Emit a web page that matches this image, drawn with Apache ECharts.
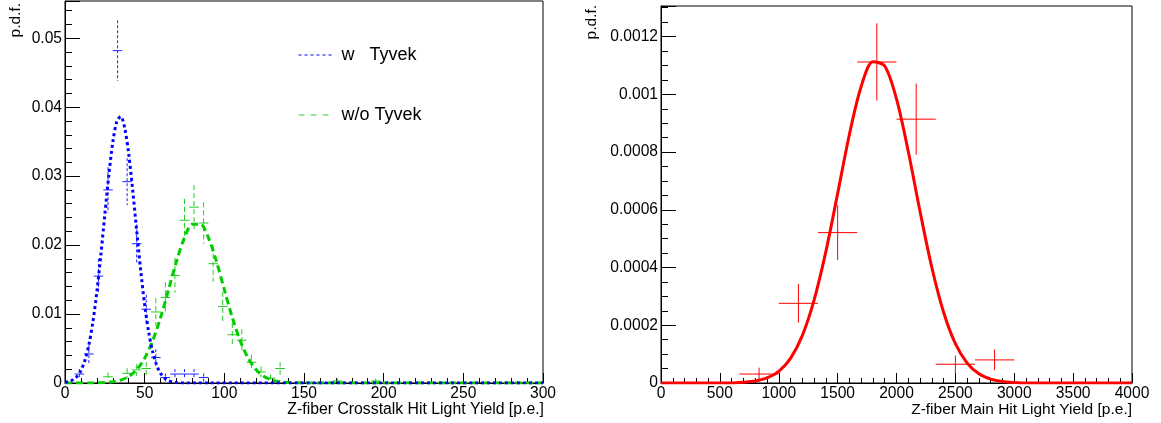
<!DOCTYPE html>
<html><head><meta charset="utf-8">
<script src="https://cdn.jsdelivr.net/npm/echarts@6/dist/echarts.min.js"></script>
<style>html,body{margin:0;padding:0;background:#fff}#c{width:1161px;height:423px}</style>
</head><body><div id="c"></div>
<script>
// ---------- left panel: crosstalk hit light yield ----------
const leftXTicks = [0, 50, 100, 150, 200, 250, 300];
const leftYTicks = [0, 0.01, 0.02, 0.03, 0.04, 0.05];
const leftBinHalf = 3;

const blueX    = [9, 15, 21, 27, 33, 39, 45, 51, 57, 63, 69, 75, 81, 87];
const blueY    = [0.0013, 0.0042, 0.0155, 0.028, 0.0482, 0.0292, 0.0202, 0.0107, 0.0037, 0.0008, 0.0013, 0.0013, 0.0013, 0.0008];
const blueYErr = [0.00072, 0.0013, 0.0025, 0.0033, 0.0044, 0.0034, 0.0028, 0.0021, 0.0012, 0.00057, 0.00072, 0.00072, 0.00072, 0.00057];

const greenX    = [27, 39, 45, 51, 57, 63, 69, 75, 81, 87, 93, 99, 105, 111, 117, 123, 129, 135, 171, 195];
const greenY    = [0.0009, 0.0014, 0.0019, 0.0021, 0.0103, 0.0124, 0.0156, 0.0236, 0.0255, 0.0232, 0.0173, 0.0111, 0.0070, 0.0062, 0.0030, 0.0016, 0.0007, 0.0021, 0.0003, 0.0003];
const greenYErr = [0.0006, 0.00075, 0.00087, 0.00092, 0.0020, 0.0022, 0.0025, 0.0031, 0.0032, 0.0030, 0.0026, 0.0021, 0.0017, 0.0016, 0.0011, 0.0008, 0.00053, 0.00092, 0.00035, 0.00035];

const blueFitX = [0, 2.5, 5, 7.5, 10, 12.5, 15, 17.5, 20, 22.5, 25, 27.5, 30, 32.5, 35, 37.5, 40, 42.5, 45, 47.5, 50, 52.5, 55, 57.5, 60, 62.5, 65, 67.5, 70, 75, 300];
const blueFitY = [0.0000893, 0.000209, 0.000457, 0.000939, 0.00181, 0.00328, 0.00556, 0.00886, 0.01324, 0.01856, 0.02442, 0.03014, 0.03490, 0.03792, 0.03865, 0.03696, 0.03317, 0.02792, 0.02205, 0.01634, 0.01136, 0.00741, 0.00454, 0.00260, 0.00140, 0.000709, 0.000336, 0.000150, 0.0000625, 0, 0];

const greenFitX = [0, 15, 20, 25, 30, 35, 40, 45, 50, 55, 60, 65, 70, 75, 80, 85, 90, 95, 100, 105, 110, 115, 120, 125, 130, 135, 140, 145, 150, 300];
const greenFitY = [0, 0, 0.000023, 0.0000667, 0.000176, 0.000428, 0.00095, 0.00193, 0.00359, 0.00611, 0.0095, 0.01354, 0.01767, 0.02109, 0.02304, 0.02304, 0.02109, 0.01767, 0.01354, 0.0095, 0.00611, 0.00359, 0.00193, 0.00095, 0.000428, 0.000176, 0.0000667, 0.000023, 0, 0];

// ---------- right panel: main hit light yield ----------
const rightXTicks = [0, 500, 1000, 1500, 2000, 2500, 3000, 3500, 4000];
const rightYTicks = [0, 0.0002, 0.0004, 0.0006, 0.0008, 0.001, 0.0012];
const rightBinHalf = 166.7;

const redX    = [833, 1167, 1500, 1833, 2167, 2500, 2833];
const redY    = [0.000031, 0.000276, 0.000521, 0.001112, 0.000914, 0.000065, 0.00008];
const redYErr = [0.000022, 0.000067, 0.000095, 0.000134, 0.000123, 0.00003, 0.000036];

const redFitX = [0, 600, 700, 800, 900, 1000, 1100, 1200, 1300, 1400, 1500, 1600, 1700, 1800, 1900, 2000, 2100, 2200, 2300, 2400, 2500, 2600, 2700, 2800, 2900, 3000, 3100, 4000];
const redFitY = [0, 0, 0.00000242, 0.00000681, 0.0000174, 0.0000405, 0.0000855, 0.000164, 0.000287, 0.000455, 0.000656, 0.000861, 0.001027, 0.001113, 0.001098, 0.000984, 0.000802, 0.000594, 0.0004, 0.000245, 0.000136, 0.000069, 0.0000317, 0.0000133, 0.00000505, 0.00000175, 0, 0];

const legendNames = ['w   Tyvek', 'w/o Tyvek'];
const xTitles = ['Z-fiber Crosstalk Hit Light Yield [p.e.]', 'Z-fiber Main Hit Light Yield [p.e.]'];
const yTitle = 'p.d.f.';

// ---------- build ----------
const FONT = "'Liberation Sans', Arial, Helvetica, sans-serif";
const zip = (xs, ys) => xs.map((x, i) => [x, ys[i]]);
const errData = (xs, ys, es, h) => xs.map((x, i) => [x, ys[i], h, es[i]]);
const plainNum = v => String(+v.toPrecision(10));

function crossRenderer(color, dash) {
  return function (params, api) {
    const x = api.value(0), y = api.value(1), ex = api.value(2), ey = api.value(3);
    const c = api.coord([x, y]);
    const l = api.coord([x - ex, y]);
    const r = api.coord([x + ex, y]);
    const t = api.coord([x, y + ey]);
    const b = api.coord([x, Math.max(0, y - ey)]);
    return {
      type: 'group',
      children: [
        { type: 'line', shape: { x1: l[0], y1: c[1], x2: r[0], y2: c[1] }, style: { stroke: color, lineWidth: 1 } },
        { type: 'line', shape: { x1: c[0], y1: t[1], x2: c[0], y2: b[1] }, style: { stroke: color, lineWidth: 1, lineDash: dash } }
      ]
    };
  };
}

function xAxisCfg(grid, ticks) {
  return {
    type: 'value', gridIndex: grid,
    min: ticks[0], max: ticks[ticks.length - 1], interval: ticks[1] - ticks[0],
    axisLine: { show: true, onZero: false, lineStyle: { color: '#000', width: 1 } },
    axisTick: { show: true, inside: true, length: 10, lineStyle: { color: '#000', width: 1 } },
    minorTick: { show: true, splitNumber: 5, length: 5, lineStyle: { color: '#000', width: 1 } },
    splitLine: { show: false }, minorSplitLine: { show: false },
    axisLabel: { color: '#000', fontSize: 15.6, fontFamily: FONT, margin: 3, showMinLabel: true, showMaxLabel: true, formatter: plainNum }
  };
}
function yAxisCfg(grid, ticks, max, minorSplit) {
  return {
    type: 'value', gridIndex: grid,
    min: 0, max: max, interval: ticks[1] - ticks[0],
    axisLine: { show: true, onZero: false, lineStyle: { color: '#000', width: 1 } },
    axisTick: { show: true, inside: true, length: 15, lineStyle: { color: '#000', width: 1 } },
    minorTick: { show: true, splitNumber: minorSplit, length: 7, lineStyle: { color: '#000', width: 1 } },
    splitLine: { show: false }, minorSplitLine: { show: false },
    axisLabel: { color: '#000', fontSize: 15.6, fontFamily: FONT, margin: 3, showMinLabel: true, showMaxLabel: false, formatter: plainNum }
  };
}

const option = {
  backgroundColor: '#fff',
  animation: false,
  grid: [
    { left: 65, right: 618, top: 1, bottom: 40, show: true, borderColor: '#000', borderWidth: 1, backgroundColor: 'transparent' },
    { left: 661, right: 29, top: 6, bottom: 40, show: true, borderColor: '#000', borderWidth: 1, backgroundColor: 'transparent' }
  ],
  xAxis: [xAxisCfg(0, leftXTicks), xAxisCfg(1, rightXTicks)],
  yAxis: [yAxisCfg(0, leftYTicks, 0.0554, 5), yAxisCfg(1, rightYTicks, 0.001306, 4)],
  legend: {
    orient: 'vertical', left: 298, top: 46, padding: 0, itemWidth: 35, itemHeight: 18, itemGap: 42,
    textStyle: { color: '#000', fontSize: 18, fontFamily: FONT, padding: [0, 0, 0, 3] },
    data: [
      { name: legendNames[0], itemStyle: { opacity: 0 }, lineStyle: { color: '#0000ff', width: 1, type: [3, 3] } },
      { name: legendNames[1], itemStyle: { opacity: 0 }, lineStyle: { color: '#33cc33', width: 1, type: [6, 6] } }
    ]
  },
  graphic: [
    { type: 'text', x: 544, y: 402, style: { text: xTitles[0], align: 'right', verticalAlign: 'top', fontSize: 15.8, fontFamily: FONT, fill: '#000' } },
    { type: 'text', x: 1132, y: 402, style: { text: xTitles[1], align: 'right', verticalAlign: 'top', fontSize: 15.5, fontFamily: FONT, fill: '#000' } },
    { type: 'text', x: 23.5, y: 3, rotation: Math.PI / 2, style: { text: yTitle, align: 'right', verticalAlign: 'bottom', fontSize: 15.5, fontFamily: FONT, fill: '#000' } },
    { type: 'text', x: 600, y: 5, rotation: Math.PI / 2, style: { text: yTitle, align: 'right', verticalAlign: 'bottom', fontSize: 15.5, fontFamily: FONT, fill: '#000' } }
  ],
  series: [
    { name: 'green points', type: 'custom', xAxisIndex: 0, yAxisIndex: 0, clip: true,
      renderItem: crossRenderer('#22cc22', [5, 3]), encode: { x: 0, y: 1 },
      data: errData(greenX, greenY, greenYErr, leftBinHalf), z: 2 },
    { name: 'blue points', type: 'custom', xAxisIndex: 0, yAxisIndex: 0, clip: true,
      renderItem: crossRenderer('#2222ff', [3, 2]), encode: { x: 0, y: 1 },
      data: errData(blueX, blueY, blueYErr, leftBinHalf), z: 2 },
    { name: legendNames[1], type: 'line', xAxisIndex: 0, yAxisIndex: 0, symbol: 'none', smooth: 0.3,
      lineStyle: { color: '#00cc00', width: 3, type: [7, 4] }, itemStyle: { color: '#00cc00' },
      data: zip(greenFitX, greenFitY), z: 3 },
    { name: legendNames[0], type: 'line', xAxisIndex: 0, yAxisIndex: 0, symbol: 'none', smooth: 0.3,
      lineStyle: { color: '#0000ff', width: 3, type: [3, 3] }, itemStyle: { color: '#0000ff' },
      data: zip(blueFitX, blueFitY), z: 4 },
    { name: 'red points', type: 'custom', xAxisIndex: 1, yAxisIndex: 1, clip: true,
      renderItem: crossRenderer('#ff0000', null), encode: { x: 0, y: 1 },
      data: errData(redX, redY, redYErr, rightBinHalf), z: 2 },
    { name: 'red fit', type: 'line', xAxisIndex: 1, yAxisIndex: 1, symbol: 'none', smooth: 0.3,
      lineStyle: { color: '#ff0000', width: 3 }, itemStyle: { color: '#ff0000' },
      data: zip(redFitX, redFitY), z: 3 }
  ]
};

const chart = echarts.init(document.getElementById('c'));
chart.setOption(option);
</script>
</body></html>
